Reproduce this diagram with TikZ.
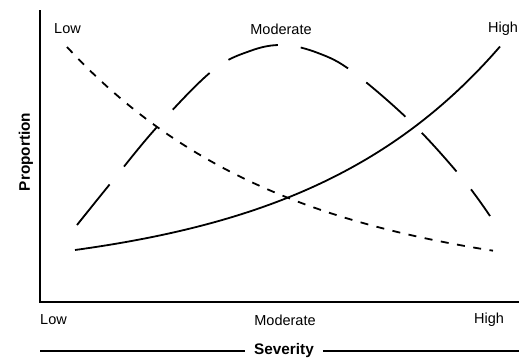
\documentclass[tikz,border=0pt]{standalone}
\usepackage{fontspec}
\setmainfont{Liberation Sans}
\begin{document}
\begin{tikzpicture}[x=1pt,y=-1pt,
  lbl/.style={inner sep=0pt,font=\fontsize{14.5pt}{16pt}\selectfont},
  ttl/.style={inner sep=0pt,font=\fontsize{15.3pt}{17pt}\selectfont\bfseries},
  axis/.style={line width=2pt},
  curve/.style={line width=1.8pt,line cap=butt},
  lowcurve/.style={curve,dash pattern=on 8pt off 8.5pt},
  modcurve/.style={curve,dash pattern=on 52pt off 23pt},
  highcurve/.style={curve}]
\useasboundingbox (0,0) rectangle (519,359);
% axes
\coordinate (ytop) at (40,10);
\coordinate (orig) at (40,302);
\coordinate (xend) at (519,302);
\draw[axis] (ytop) -- (orig) -- (xend);
% axis labels
\node[ttl,rotate=90] (prop) at (26,152) {Proportion};
\node[ttl] (sev) at (284,351) {Severity};
\coordinate (sevl) at (40,351);
\coordinate (sevr) at (519,351);
\draw[axis] (sevl) -- ([xshift=-9pt]sev.west);
\draw[axis] ([xshift=9pt]sev.east) -- (sevr);
% tick labels
\node[lbl,anchor=west] (xlow) at (40,320) {Low};
\node[lbl] (xmod) at (285,320) {Moderate};
\node[lbl] (xhigh) at (489,320) {High};
% curve labels
\node[lbl,anchor=west] (clow) at (54,29) {Low};
\node[lbl] (cmod) at (281,29) {Moderate};
\node[lbl] (chigh) at (503,29) {High};
% Low curve (short dashes)
\draw[lowcurve] plot[domain=67:493,samples=120] (\x,{47+238*(1-exp(-(\x-67)/220))});
% Moderate curve (long dashes)
\draw[modcurve] plot[smooth,tension=0.6] coordinates {(77,225) (110,184) (157,127) (212,71) (250,51) (283,45) (318,53) (353,72) (412,123) (462,178) (490,216)};
% High curve (solid)
\draw[highcurve] plot[domain=75:500,samples=120] (\x,{277.6-27.6*exp((\x-75)/200)});
\end{tikzpicture}
\end{document}
